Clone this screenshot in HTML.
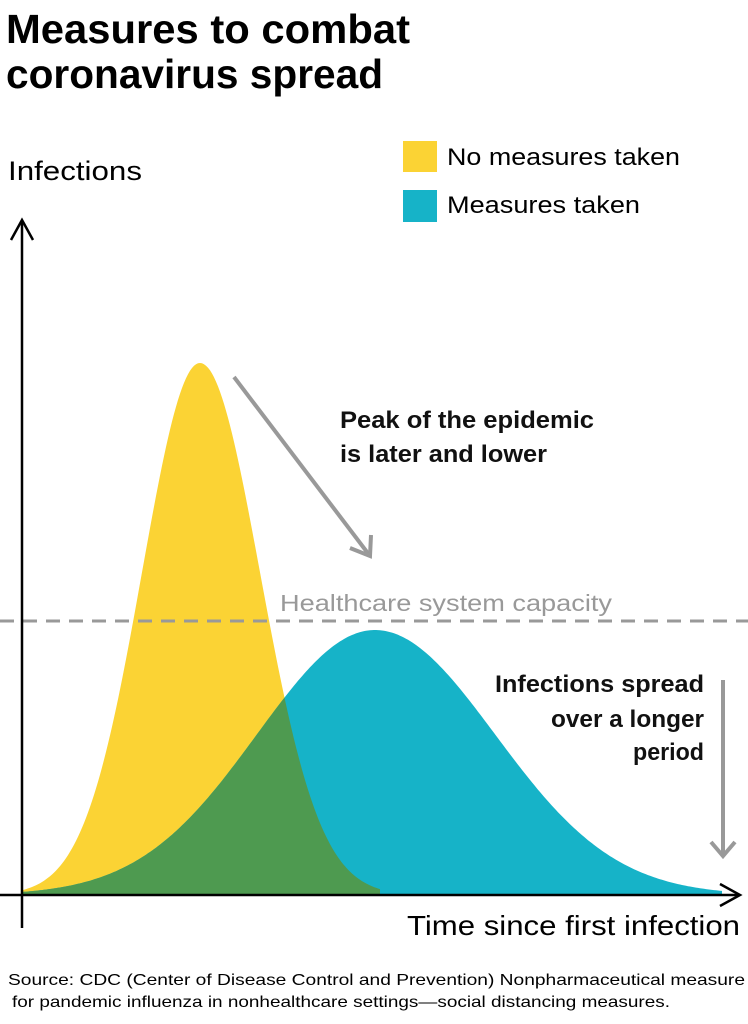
<!DOCTYPE html>
<html><head><meta charset="utf-8"><style>
html,body{margin:0;padding:0;background:#fff;}
svg{display:block;font-family:"Liberation Sans",sans-serif;}
</style></head><body>
<svg id="s" width="748" height="1024" viewBox="0 0 748 1024" xmlns="http://www.w3.org/2000/svg">
<defs><clipPath id="cy"><path id="cyp" d=""/></clipPath></defs>
<path id="yel" fill="#fbd334" d=""/>
<path id="blu" fill="#16b3c8" d=""/>
<path id="grn" fill="#4e9a50" d="" clip-path="url(#cy)"/>
<line x1="0" y1="621" x2="748" y2="621" stroke="#999" stroke-width="3" stroke-dasharray="14,9"/>
<text x="280" y="611" font-size="23" fill="#999" textLength="332" lengthAdjust="spacingAndGlyphs">Healthcare system capacity</text>
<line x1="22" y1="220" x2="22" y2="928" stroke="#000" stroke-width="2.5"/>
<polyline points="11,240 22,220 33,240" fill="none" stroke="#000" stroke-width="2.5"/>
<line x1="0" y1="895" x2="740" y2="895" stroke="#000" stroke-width="2.5"/>
<polyline points="720,884 740,895 720,906" fill="none" stroke="#000" stroke-width="2.5"/>
<line x1="234" y1="377" x2="370" y2="556" stroke="#999" stroke-width="4"/>
<polyline points="350,548 370,556 371,535" fill="none" stroke="#999" stroke-width="4"/>
<line x1="723" y1="680" x2="723" y2="856" stroke="#999" stroke-width="4"/>
<polyline points="711,842 723,856 735,842" fill="none" stroke="#999" stroke-width="4"/>
<g font-weight="bold" fill="#000">
<text x="6" y="43" font-size="41" textLength="404" lengthAdjust="spacingAndGlyphs">Measures to combat</text>
<text x="6" y="88" font-size="41" textLength="377" lengthAdjust="spacingAndGlyphs">coronavirus spread</text>
</g>
<text x="8" y="180" font-size="27" textLength="134" lengthAdjust="spacingAndGlyphs">Infections</text>
<rect x="403" y="141" width="34" height="31" fill="#fbd334"/>
<rect x="403" y="190" width="34" height="32" fill="#16b3c8"/>
<text x="447" y="165" font-size="24" textLength="233" lengthAdjust="spacingAndGlyphs">No measures taken</text>
<text x="447" y="213" font-size="24" textLength="193" lengthAdjust="spacingAndGlyphs">Measures taken</text>
<g font-size="24" fill="#111" font-weight="bold">
<text x="340" y="428" textLength="254" lengthAdjust="spacingAndGlyphs">Peak of the epidemic</text>
<text x="340" y="462" textLength="207" lengthAdjust="spacingAndGlyphs">is later and lower</text>
<text x="495" y="692" textLength="209" lengthAdjust="spacingAndGlyphs">Infections spread</text>
<text x="551" y="727" textLength="153" lengthAdjust="spacingAndGlyphs">over a longer</text>
<text x="633" y="760" textLength="71" lengthAdjust="spacingAndGlyphs">period</text>
</g>
<text x="407" y="935" font-size="28" textLength="333" lengthAdjust="spacingAndGlyphs">Time since first infection</text>
<text x="8" y="985" font-size="16" textLength="737" lengthAdjust="spacingAndGlyphs">Source: CDC (Center of Disease Control and Prevention) Nonpharmaceutical measure</text>
<text x="12" y="1007" font-size="16" textLength="658" lengthAdjust="spacingAndGlyphs">for pandemic influenza in nonhealthcare settings—social distancing measures.</text>
</svg>
<script>
(function(){
var B=895;
function path(c,h,sl,sr,x0,x1){
 var d="M"+x0+","+B;
 for(var x=x0;x<=x1;x+=2){var s=x<c?sl:sr;var y=B-h*Math.exp(-Math.pow((x-c)/s,2)/2);d+=" L"+x+","+y.toFixed(1);}
 return d+" L"+x1+","+B+" Z";
}
var y=path(200,532,58,60,22,380);
var b=path(375,265,118,120,22,722);
document.getElementById("yel").setAttribute("d",y);
document.getElementById("blu").setAttribute("d",b);
document.getElementById("cyp").setAttribute("d",y);
document.getElementById("grn").setAttribute("d",b);
})();
</script>
</body></html>
